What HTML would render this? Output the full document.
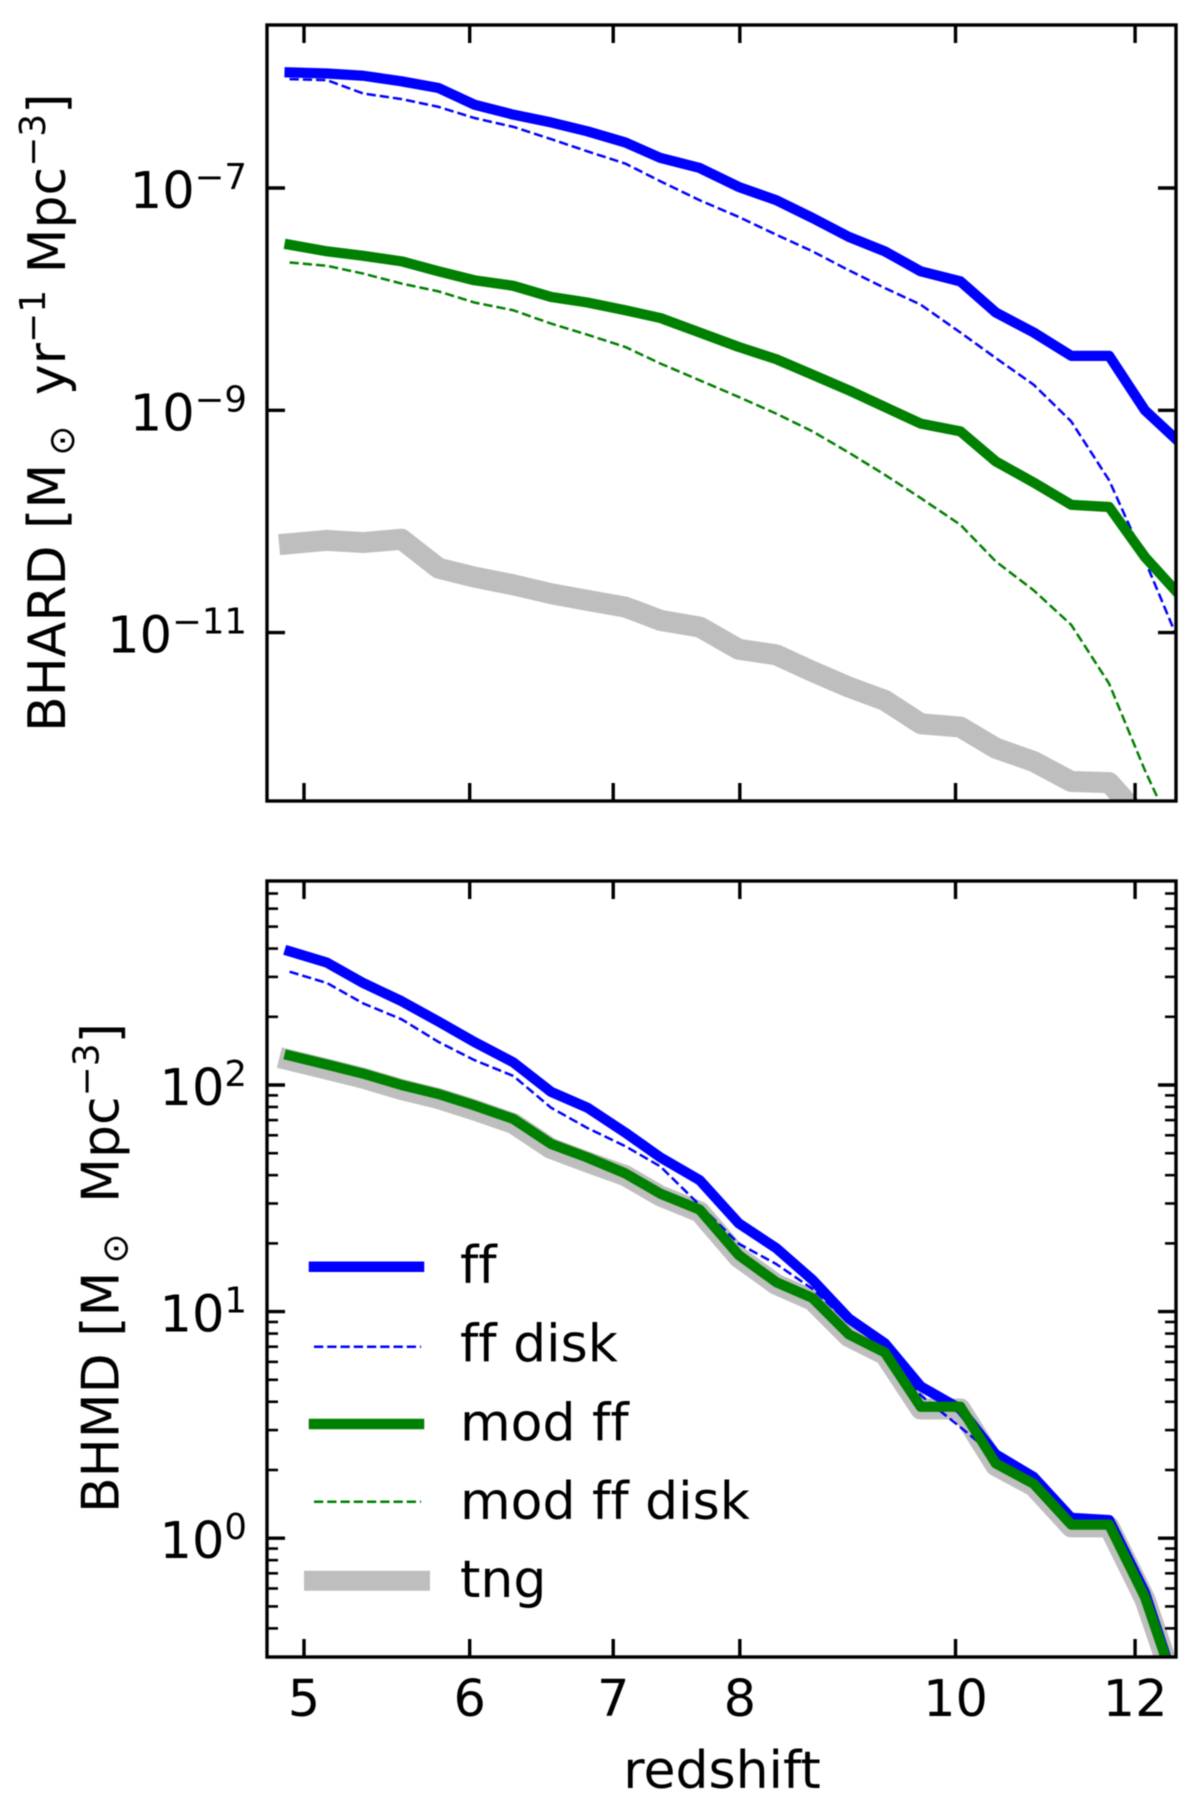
<!DOCTYPE html>
<html lang="en">
<head>
<meta charset="utf-8">
<title>BHARD and BHMD vs redshift</title>
<style>
  html, body { margin: 0; padding: 0; background: #fff; }
  #chart { display: block; width: 1200px; height: 1800px; filter: blur(0.5px); }
  text { font-family: "DejaVu Sans", "Liberation Sans", sans-serif; fill: #000; font-variant-ligatures: none; }
</style>
</head>
<body>
<svg id="chart" xmlns="http://www.w3.org/2000/svg" width="1200" height="1800" viewBox="0 0 1200 1800">
  <defs>
    <clipPath id="clip-top"><rect x="267" y="25" width="909" height="776"/></clipPath>
    <clipPath id="clip-bottom"><rect x="267" y="881" width="909" height="776"/></clipPath>
  </defs>
  <rect x="0" y="0" width="1200" height="1800" fill="#fff"/>

  <g id="top-lines" clip-path="url(#clip-top)"></g>
  <g id="bottom-lines" clip-path="url(#clip-bottom)"></g>
  <g id="top-ticks"></g>
  <g id="bottom-ticks"></g>

  <rect x="267" y="25" width="909" height="776" fill="none" stroke="#000" stroke-width="3.4"/>
  <rect x="267" y="881" width="909" height="776" fill="none" stroke="#000" stroke-width="3.4"/>

  <text transform="translate(65,732) rotate(-90)" font-size="52">BHARD [M<tspan dx="8" dy="9" font-size="36">⊙</tspan><tspan dx="14" dy="-9"> yr</tspan><tspan dy="-20" font-size="36">−1</tspan><tspan dy="20"> Mpc</tspan><tspan dy="-20" font-size="36">−3</tspan><tspan dy="20">]</tspan></text>
  <text transform="translate(118.5,1513) rotate(-90)" font-size="52">BHMD [M<tspan dx="8" dy="9" font-size="36">⊙</tspan><tspan dx="14" dy="-9"> Mpc</tspan><tspan dy="-20" font-size="36">−3</tspan><tspan dy="20">]</tspan></text>
  <text x="722" y="1788" font-size="52" text-anchor="middle">redshift</text>

  <g>
    <g>
      <line x1="314" y1="1266.7" x2="419" y2="1266.7" stroke="#0000ff" stroke-width="10.5" stroke-linecap="square"/>
      <text x="460" y="1283" font-size="52">ff</text>
    </g>
    <g>
      <line x1="314" y1="1346.7" x2="421" y2="1346.7" stroke="#0000ff" stroke-width="2.5" stroke-dasharray="9.25 4"/>
      <text x="460" y="1361.7" font-size="52">ff disk</text>
    </g>
    <g>
      <line x1="314" y1="1424" x2="419" y2="1424" stroke="#008000" stroke-width="10.5" stroke-linecap="square"/>
      <text x="460" y="1440.5" font-size="52">mod ff</text>
    </g>
    <g>
      <line x1="314" y1="1501.7" x2="421" y2="1501.7" stroke="#008000" stroke-width="2.5" stroke-dasharray="9.25 4"/>
      <text x="460" y="1519" font-size="52">mod ff disk</text>
    </g>
    <g>
      <line x1="314" y1="1580.7" x2="420" y2="1580.7" stroke="#bebebe" stroke-width="20" stroke-linecap="square"/>
      <text x="460" y="1597" font-size="52">tng</text>
    </g>
  </g>
</svg>

<script>
// Shared redshift grid
const redshifts = [4.92,5.13,5.34,5.57,5.80,6.03,6.29,6.55,6.81,7.09,7.36,7.67,7.99,8.31,8.63,8.96,9.30,9.65,10.05,10.42,10.83,11.25,11.69,12.12,12.61];

// Top panel: log10 BHARD [Msun / yr / Mpc^3]
const bhardFf = [-5.96,-5.97,-5.99,-6.04,-6.10,-6.25,-6.34,-6.41,-6.49,-6.59,-6.73,-6.82,-6.99,-7.11,-7.27,-7.44,-7.57,-7.75,-7.84,-8.12,-8.30,-8.51,-8.51,-9.00,-9.33];
const bhardFfDisk = [-6.02,-6.03,-6.15,-6.20,-6.27,-6.37,-6.45,-6.56,-6.67,-6.78,-6.94,-7.11,-7.26,-7.42,-7.57,-7.74,-7.90,-8.05,-8.30,-8.53,-8.77,-9.10,-9.63,-10.35,-11.20];
const bhardModFf = [-7.51,-7.57,-7.61,-7.66,-7.75,-7.83,-7.88,-7.98,-8.03,-8.10,-8.17,-8.30,-8.43,-8.54,-8.68,-8.82,-8.97,-9.12,-9.19,-9.46,-9.65,-9.85,-9.87,-10.32,-10.71];
const bhardModFfDisk = [-7.67,-7.70,-7.77,-7.86,-7.93,-8.03,-8.10,-8.22,-8.32,-8.43,-8.58,-8.73,-8.88,-9.03,-9.19,-9.38,-9.58,-9.79,-10.03,-10.36,-10.62,-10.93,-11.46,-12.24,-13.01];
const bhardTng = [-10.20,-10.17,-10.19,-10.16,-10.42,-10.50,-10.57,-10.65,-10.71,-10.77,-10.89,-10.95,-11.15,-11.20,-11.35,-11.49,-11.61,-11.82,-11.85,-12.04,-12.16,-12.34,-12.35,-12.71,-13.05];

// Bottom panel: log10 BHMD [Msun / Mpc^3]
const bhmdFf = [2.59,2.54,2.45,2.37,2.28,2.19,2.10,1.97,1.90,1.79,1.68,1.58,1.39,1.28,1.14,0.97,0.86,0.67,0.57,0.37,0.27,0.09,0.08,-0.24,-0.77];
const bhmdFfDisk = [2.50,2.45,2.36,2.29,2.19,2.11,2.04,1.90,1.81,1.73,1.64,1.47,1.30,1.21,1.10,0.95,0.84,0.63,0.49,0.36,0.25,0.07,0.07,-0.25,-0.77];
const bhmdModFf = [2.13,2.09,2.05,2.00,1.96,1.91,1.85,1.74,1.68,1.61,1.52,1.45,1.25,1.13,1.06,0.90,0.82,0.58,0.58,0.33,0.24,0.06,0.06,-0.26,-0.77];
const bhmdModFfDisk = [2.12,2.08,2.04,1.99,1.95,1.90,1.84,1.73,1.67,1.60,1.51,1.44,1.24,1.12,1.05,0.89,0.81,0.57,0.57,0.32,0.23,0.05,0.05,-0.27,-0.78];
const bhmdTng = [2.11,2.07,2.03,1.98,1.94,1.89,1.83,1.72,1.66,1.60,1.51,1.44,1.24,1.12,1.05,0.89,0.81,0.57,0.57,0.32,0.23,0.05,0.05,-0.27,-0.78];

// Tick labels
const xTickValues = [5,6,7,8,10,12];
const topMajorExponents = [-7,-9,-11];
const bottomMajorExponents = [0,1,2];
const bottomMinorDecades = [-1,0,1,2];
const minorMantissas = [2,3,4,5,6,7,8,9];

const SVG_NS = 'http://www.w3.org/2000/svg';
const xLeft = 267, xRight = 1176;
const topPanel = { top: 25, bottom: 801 };
const bottomPanel = { top: 881, bottom: 1657 };

function xScale(z) { return 304 + 2475 * Math.log10((1 + z) / 6); }
function topY(logValue) { return 188 + (-7 - logValue) * 111.15; }
function bottomY(logValue) { return 1085 + (2 - logValue) * 226.6; }

function drawSeries(parent, name, values, yScale, style) {
  const p = document.createElementNS(SVG_NS, 'path');
  const d = values.map((v, i) => (i ? 'L' : 'M') + xScale(redshifts[i]).toFixed(2) + ' ' + yScale(v).toFixed(2)).join(' ');
  p.setAttribute('d', d);
  p.setAttribute('fill', 'none');
  p.setAttribute('stroke', style.color);
  p.setAttribute('stroke-width', style.width);
  p.setAttribute('stroke-linejoin', 'round');
  p.setAttribute('stroke-linecap', style.dash ? 'butt' : 'square');
  if (style.dash) p.setAttribute('stroke-dasharray', style.dash);
  
  
  parent.appendChild(p);
}

function tickLine(parent, name, x1, y1, x2, y2, w) {
  const l = document.createElementNS(SVG_NS, 'line');
  l.setAttribute('x1', x1);
  l.setAttribute('y1', y1);
  l.setAttribute('x2', x2);
  l.setAttribute('y2', y2);
  l.setAttribute('stroke', '#000');
  l.setAttribute('stroke-width', w);
  
  
  parent.appendChild(l);
}

function powerLabel(parent, name, exponent, y) {
  const t = document.createElementNS(SVG_NS, 'text');
  t.setAttribute('x', 247);
  t.setAttribute('y', y + 20);
  t.setAttribute('font-size', 51);
  t.setAttribute('text-anchor', 'end');
  
  
  t.appendChild(document.createTextNode('10'));
  const s = document.createElementNS(SVG_NS, 'tspan');
  s.setAttribute('font-size', 35.5);
  s.setAttribute('dy', -19);
  s.textContent = String(exponent).replace('-', '\u2212');
  t.appendChild(s);
  parent.appendChild(t);
}

const topLines = document.getElementById('top-lines');
const bottomLines = document.getElementById('bottom-lines');
const topTicks = document.getElementById('top-ticks');
const bottomTicks = document.getElementById('bottom-ticks');

const solidBlue = { color: '#0000ff', width: 10.2 };
const dashBlue = { color: '#0000ff', width: 2.5, dash: '9.25 4' };
const solidGreen = { color: '#008000', width: 10.2 };
const dashGreen = { color: '#008000', width: 2.5, dash: '9.25 4' };
const thickGray = { color: '#bebebe', width: 21 };

drawSeries(topLines, 'bhard-tng-line', bhardTng, topY, thickGray);
drawSeries(topLines, 'bhard-ff-line', bhardFf, topY, solidBlue);
drawSeries(topLines, 'bhard-ff-disk-line', bhardFfDisk, topY, dashBlue);
drawSeries(topLines, 'bhard-mod-ff-line', bhardModFf, topY, solidGreen);
drawSeries(topLines, 'bhard-mod-ff-disk-line', bhardModFfDisk, topY, dashGreen);

drawSeries(bottomLines, 'bhmd-tng-line', bhmdTng, bottomY, thickGray);
drawSeries(bottomLines, 'bhmd-ff-line', bhmdFf, bottomY, solidBlue);
drawSeries(bottomLines, 'bhmd-ff-disk-line', bhmdFfDisk, bottomY, dashBlue);
drawSeries(bottomLines, 'bhmd-mod-ff-line', bhmdModFf, bottomY, solidGreen);
drawSeries(bottomLines, 'bhmd-mod-ff-disk-line', bhmdModFfDisk, bottomY, dashGreen);

const MAJOR = 18, MINOR = 11;

xTickValues.forEach(z => {
  const x = xScale(z);
  tickLine(topTicks, 'bhard-x-tick-bottom', x, topPanel.bottom, x, topPanel.bottom - MAJOR, 3.4);
  tickLine(topTicks, 'bhard-x-tick-top', x, topPanel.top, x, topPanel.top + MAJOR, 3.4);
  tickLine(bottomTicks, 'bhmd-x-tick-bottom', x, bottomPanel.bottom, x, bottomPanel.bottom - MAJOR, 3.4);
  tickLine(bottomTicks, 'bhmd-x-tick-top', x, bottomPanel.top, x, bottomPanel.top + MAJOR, 3.4);
  const t = document.createElementNS(SVG_NS, 'text');
  t.setAttribute('x', x);
  t.setAttribute('y', 1716);
  t.setAttribute('font-size', 51);
  t.setAttribute('text-anchor', 'middle');
  
  
  t.textContent = z;
  bottomTicks.appendChild(t);
});

topMajorExponents.forEach(e => {
  const y = topY(e);
  tickLine(topTicks, 'bhard-y-tick-left', xLeft, y, xLeft + MAJOR, y, 3.4);
  tickLine(topTicks, 'bhard-y-tick-right', xRight, y, xRight - MAJOR, y, 3.4);
  powerLabel(topTicks, 'bhard-y-tick-label', e, y);
});

bottomMajorExponents.forEach(e => {
  const y = bottomY(e);
  tickLine(bottomTicks, 'bhmd-y-tick-left', xLeft, y, xLeft + MAJOR, y, 3.4);
  tickLine(bottomTicks, 'bhmd-y-tick-right', xRight, y, xRight - MAJOR, y, 3.4);
  powerLabel(bottomTicks, 'bhmd-y-tick-label', e, y);
});

bottomMinorDecades.forEach(decade => {
  minorMantissas.forEach(m => {
    const y = bottomY(decade + Math.log10(m));
    if (y > bottomPanel.top + 3 && y < bottomPanel.bottom - 3) {
      tickLine(bottomTicks, 'bhmd-y-minor-tick-left', xLeft, y, xLeft + MINOR, y, 2.6);
      tickLine(bottomTicks, 'bhmd-y-minor-tick-right', xRight, y, xRight - MINOR, y, 2.6);
    }
  });
});
</script>
</body>
</html>
